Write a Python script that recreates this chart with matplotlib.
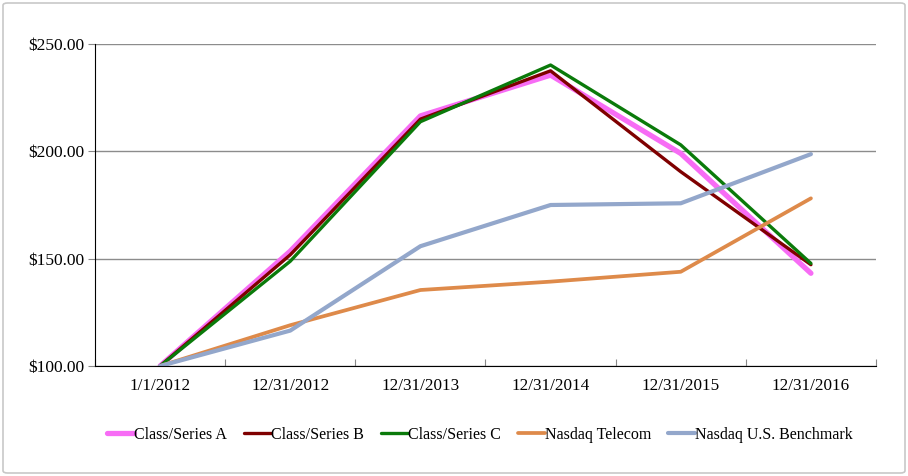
import matplotlib.pyplot as plt
from matplotlib.patches import FancyBboxPatch

plt.rcParams["font.family"] = ["Liberation Serif", "DejaVu Serif"]

# Category labels and series values (cumulative return, $)
dates = ["1/1/2012", "12/31/2012", "12/31/2013", "12/31/2014", "12/31/2015", "12/31/2016"]
class_a = [100.0, 153.5, 216.5, 235.5, 199.0, 143.2]
class_b = [100.0, 151.8, 215.0, 237.5, 190.5, 147.2]
class_c = [100.0, 148.8, 213.8, 240.2, 203.0, 147.8]
nasdaq_telecom = [100.0, 119.0, 135.4, 139.3, 143.9, 178.1]
nasdaq_us = [100.0, 116.5, 155.8, 175.0, 175.8, 198.7]

series = [
    ("Class/Series A", class_a, "#F76CF5", 3.8),
    ("Class/Series B", class_b, "#7F0000", 2.4),
    ("Class/Series C", class_c, "#0A7A0A", 2.4),
    ("Nasdaq Telecom", nasdaq_telecom, "#DE8A4A", 2.7),
    ("Nasdaq U.S. Benchmark", nasdaq_us, "#93A7CB", 3.0),
]

fig = plt.figure(figsize=(9.08, 4.76), dpi=100)
ax = fig.add_axes([95 / 908, 1 - 366 / 476, 781 / 908, 322 / 476])

x = range(len(dates))
for name, vals, color, lw in series:
    ax.plot(x, vals, color=color, linewidth=lw, label=name, solid_capstyle="round")

ax.set_xlim(-0.5, len(dates) - 0.5)
ax.set_ylim(100, 250)
ax.set_yticks([100, 150, 200, 250])
ax.set_yticklabels([f"${v:.2f}" for v in [100, 150, 200, 250]], fontsize=12.5)
ax.yaxis.grid(True, color="#8c8c8c", linewidth=1.0)
ax.set_axisbelow(True)

# category labels centered, ticks on boundaries
ax.set_xticks([i - 0.5 for i in range(len(dates) + 1)])
ax.set_xticklabels([])
ax.set_xticks(list(x), minor=True)
ax.set_xticklabels(dates, minor=True, fontsize=12.3)
ax.tick_params(axis="x", which="minor", length=0, pad=9)
ax.tick_params(axis="x", which="major", length=5, direction="in", color="#888888")
ax.tick_params(axis="y", length=5, direction="out", pad=3, color="#888888")

for s in ["top", "right"]:
    ax.spines[s].set_visible(False)
ax.spines["left"].set_color("black")
ax.spines["bottom"].set_color("black")

leg = fig.legend(
    loc="center",
    bbox_to_anchor=(480 / 908, 1 - 435 / 476),
    ncol=5,
    frameon=False,
    fontsize=11.5,
    handlelength=1.7,
    handletextpad=0.0,
    columnspacing=1.05,
)

border = FancyBboxPatch(
    (3 / 908, 3 / 476), 902 / 908, 470 / 476,
    boxstyle="round,pad=0,rounding_size=0.005",
    transform=fig.transFigure, fill=False, edgecolor="#c8c8c8", linewidth=1.2,
)
fig.patches.append(border)

fig.savefig("out.png", dpi=100)
